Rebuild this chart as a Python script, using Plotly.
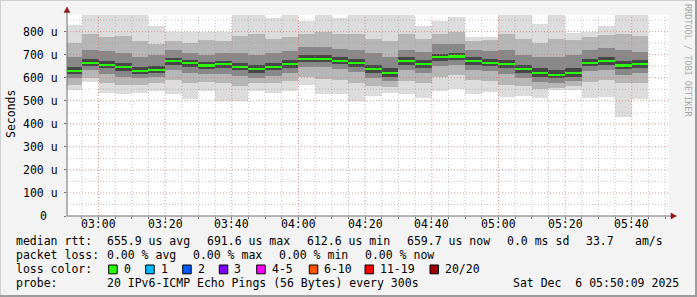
import pandas as pd
import plotly.graph_objects as go

# ---------------- data ----------------
bin_end = pd.date_range("2025-12-06 02:55", periods=35, freq="5min")

median_us = [630, 665, 656, 645, 630, 635, 671, 662, 653, 658, 648, 639, 648, 658, 683,
             683, 674, 665, 639, 622, 671, 658, 688, 692, 671, 665, 658, 639, 622, 613,
             622, 665, 671, 653, 659.7]
min_us = [548, 580, 535, 530, 535, 543, 530, 507, 543, 500, 500, 543, 535, 543, 570,
          530, 530, 500, 522, 535, 528, 513, 543, 552, 530, 539, 517, 522, 513, 546,
          546, 513, 517, 430, 507]
max_us = [830, 880, 880, 880, 880, 826, 797, 797, 800, 797, 880, 880, 860, 880, 848,
          880, 860, 880, 880, 880, 880, 826, 848, 865, 775, 778, 880, 880, 833, 880,
          796, 800, 826, 880, 880]
p10_us = [570, 600, 575, 570, 570, 575, 590, 575, 580, 575, 565, 575, 575, 585, 605,
          595, 590, 575, 565, 560, 585, 575, 605, 610, 590, 585, 570, 565, 550, 555,
          565, 580, 590, 575, 575]
p25_us = [600, 632, 615, 605, 598, 605, 635, 620, 615, 618, 608, 600, 608, 620, 645,
          645, 638, 625, 598, 585, 635, 620, 650, 655, 635, 628, 615, 598, 580, 575,
          585, 630, 635, 610, 620]
p40_us = [615, 650, 640, 628, 615, 620, 656, 646, 638, 642, 632, 622, 632, 642, 668,
          668, 660, 648, 622, 605, 655, 642, 672, 678, 655, 650, 640, 622, 604, 598,
          605, 650, 656, 636, 642]
p60_us = [645, 680, 672, 662, 648, 652, 686, 678, 668, 674, 664, 655, 664, 675, 698,
          698, 690, 682, 655, 640, 688, 675, 704, 708, 688, 682, 675, 656, 640, 632,
          640, 682, 688, 672, 676]
p75_us = [690, 720, 715, 705, 690, 700, 720, 705, 700, 705, 705, 700, 705, 715, 735,
          735, 725, 720, 705, 690, 720, 710, 745, 745, 720, 715, 720, 700, 690, 690,
          700, 720, 730, 720, 710]
p90_us = [752, 790, 775, 783, 760, 745, 760, 750, 765, 760, 780, 790, 770, 775, 790,
          800, 790, 790, 770, 760, 790, 770, 790, 800, 760, 765, 790, 770, 750, 770,
          765, 775, 785, 790, 780]

y_tick_vals = [0, 100, 200, 300, 400, 500, 600, 700, 800]
y_tick_text = ["0", "100 u", "200 u", "300 u", "400 u", "500 u", "600 u", "700 u", "800 u"]
x_tick_vals = pd.date_range("2025-12-06 03:00", periods=9, freq="20min")
x_tick_text = [t.strftime("%H:%M") for t in x_tick_vals]

loss_labels = ["0", "1", "2", "3", "4-5", "6-10", "11-19", "20/20"]
loss_colors = ["#26ff00", "#00b8ff", "#0059ff", "#7e00ff", "#ff00ff", "#ff5500", "#ff0000", "#a10000"]

legend_rows = [
    [("median rtt:", 16), ("655.9 us avg", 107), ("691.6 us max", 207), ("612.6 us min", 307),
     ("659.7 us now", 407), ("0.0 ms sd", 506.5), ("33.7", 586), ("am/s", 635)],
    [("packet loss:", 16), ("0.00 % avg", 107), ("0.00 % max", 193), ("0.00 % min", 279),
     ("0.00 % now", 365)],
    [("loss color:", 16)],
    [("probe:", 16), ("20 IPv6-ICMP Echo Pings (56 Bytes) every 300s", 107),
     ("Sat Dec\u00a0\u00a06 05:50:09 2025", 513)],
]
loss_box_x = [108.7, 145.7, 182.7, 219.3, 256.7, 309.3, 365, 430]

# ---------------- geometry ----------------
W, H = 697, 297
L, R, T, B = 67, 28, 15, 81
PW, PH = W - L - R, H - T - B
Y_MAX = 872
x_start = pd.Timestamp("2025-12-06 02:50:33")
x_stop = pd.Timestamp("2025-12-06 05:51:10")
FONT = "DejaVu Sans Mono"
FS = 11.5


def px(xp):
    return (xp - L) / PW


def py(yp):
    return (H - B - yp) / PH


centers = bin_end - pd.Timedelta(seconds=150)
BIN_MS = 300000

fig = go.Figure()
layers = [(min_us, max_us, "#dcdcdc"), (p10_us, p90_us, "#b6b6b6"),
          (p25_us, p75_us, "#888888"), (p40_us, p60_us, "#464646")]
for lo, hi, col in layers:
    fig.add_trace(go.Bar(x=centers, base=lo, y=[h - l for l, h in zip(lo, hi)],
                         width=BIN_MS, marker=dict(color=col, line=dict(width=0)),
                         showlegend=False, hoverinfo="skip"))
fig.add_trace(go.Bar(x=centers, base=[m - 4.5 for m in median_us], y=[9] * len(median_us),
                     width=BIN_MS, marker=dict(color=loss_colors[0], line=dict(width=0)),
                     showlegend=False, name="median"))

shapes = []
# grid above traces (rrdtool style)
t = pd.Timestamp("2025-12-06 02:55")
while t < x_stop:
    major = (t.minute % 20 == 0)
    shapes.append(dict(type="line", xref="x", yref="paper", x0=t, x1=t, y0=0, y1=1, layer="above",
                       line=dict(color="rgba(225,110,110,0.75)" if major else "rgba(150,150,150,0.55)",
                                 width=1, dash="1px,2px")))
    t += pd.Timedelta(minutes=5)
for v in range(50, Y_MAX, 50):
    major = (v % 100 == 0)
    shapes.append(dict(type="line", xref="paper", yref="y", x0=0, x1=1, y0=v, y1=v, layer="above",
                       line=dict(color="rgba(225,110,110,0.75)" if major else "rgba(150,150,150,0.55)",
                                 width=1, dash="1px,2px")))
# axis lines with arrows
AX = "#6e6e6e"
shapes.append(dict(type="line", xref="paper", yref="paper", x0=0, x1=px(673), y0=0, y1=0,
                   line=dict(color=AX, width=1), layer="above"))
shapes.append(dict(type="line", xref="paper", yref="paper", x0=0, x1=0, y0=0, y1=py(11),
                   line=dict(color=AX, width=1), layer="above"))
shapes.append(dict(type="path", xref="paper", yref="paper", layer="above",
                   path=f"M {px(671)} {py(213)} L {px(676.5)} {py(216)} L {px(671)} {py(219)} Z",
                   fillcolor="#8b1a1a", line=dict(color="#8b1a1a", width=0.5)))
shapes.append(dict(type="path", xref="paper", yref="paper", layer="above",
                   path=f"M {px(64)} {py(12.5)} L {px(67)} {py(7)} L {px(70)} {py(12.5)} Z",
                   fillcolor="#8b1a1a", line=dict(color="#8b1a1a", width=0.5)))
# legend colour boxes
for bx, col in zip(loss_box_x, loss_colors):
    shapes.append(dict(type="rect", xref="paper", yref="paper", x0=px(bx), x1=px(bx + 8.5),
                       y0=py(273.8), y1=py(265.0), fillcolor=col, line=dict(color="#000000", width=1)))
# image frame
shapes.append(dict(type="line", xref="paper", yref="paper", x0=px(0), x1=px(W), y0=py(0.5), y1=py(0.5),
                   line=dict(color="#cfcfcf", width=1)))
shapes.append(dict(type="line", xref="paper", yref="paper", x0=px(0.5), x1=px(0.5), y0=py(0), y1=py(H),
                   line=dict(color="#cfcfcf", width=1)))
shapes.append(dict(type="line", xref="paper", yref="paper", x0=px(0), x1=px(W), y0=py(H - 1), y1=py(H - 1),
                   line=dict(color="#9c9c9c", width=2)))
shapes.append(dict(type="line", xref="paper", yref="paper", x0=px(W - 1), x1=px(W - 1), y0=py(0), y1=py(H),
                   line=dict(color="#9c9c9c", width=2)))

annotations = []
txtfont = dict(family=FONT, size=FS, color="#000000")
# axis tick labels (rrdtool positions)
for tv, tt in zip(x_tick_vals, x_tick_text):
    annotations.append(dict(text=tt, x=tv, y=py(224.3), xref="x", yref="paper", xanchor="center",
                            yanchor="middle", showarrow=False, font=txtfont))
for yv, yt in zip(y_tick_vals, y_tick_text):
    xr = 59.5 if yt.endswith("u") else 49
    annotations.append(dict(text=yt, x=px(xr), y=yv, xref="paper", yref="y", xanchor="right",
                            yanchor="middle", showarrow=False, font=txtfont))
row_y = [241.3, 255.3, 269.3, 283.3]
for ry, row in zip(row_y, legend_rows):
    for txt, xx in row:
        annotations.append(dict(text=txt, x=px(xx - 2), y=py(ry), xref="paper", yref="paper",
                                xanchor="left", yanchor="middle", showarrow=False, font=txtfont))
for bx, lab in zip(loss_box_x, loss_labels):
    annotations.append(dict(text=lab, x=px(bx + 13), y=py(row_y[2]), xref="paper", yref="paper",
                            xanchor="left", yanchor="middle", showarrow=False, font=txtfont))
annotations.append(dict(text="Seconds", x=px(11), y=py(114), xref="paper", yref="paper",
                        textangle=-90, showarrow=False, xanchor="center", yanchor="middle",
                        font=txtfont))
annotations.append(dict(text="RRDTOOL / TOBI OETIKER", x=px(688), y=py(60), xref="paper", yref="paper",
                        textangle=90, showarrow=False, xanchor="center", yanchor="middle",
                        font=dict(family=FONT, size=8.5, color="#a8a8a8")))

fig.update_layout(
    width=W, height=H, margin=dict(l=L, r=R, t=T, b=B, pad=0),
    paper_bgcolor="#f3f3f3", plot_bgcolor="#ffffff",
    barmode="overlay", bargap=0, showlegend=False,
    shapes=shapes, annotations=annotations,
    font=dict(family=FONT, size=FS, color="#000000"),
    xaxis=dict(type="date", range=[x_start, x_stop], showgrid=False, zeroline=False, showline=False,
               tickmode="array", tickvals=x_tick_vals, showticklabels=False,
               ticks="outside", ticklen=3, tickcolor=AX,
               minor=dict(tickmode="array", tickvals=list(pd.date_range("2025-12-06 02:55", periods=36, freq="5min")),
                          ticks="outside", ticklen=2, tickcolor=AX, showgrid=False)),
    yaxis=dict(range=[0, Y_MAX], showgrid=False, zeroline=False, showline=False,
               tickmode="array", tickvals=y_tick_vals, showticklabels=False,
               ticks="outside", ticklen=2, tickcolor=AX),
)

fig.write_html("out.html")
